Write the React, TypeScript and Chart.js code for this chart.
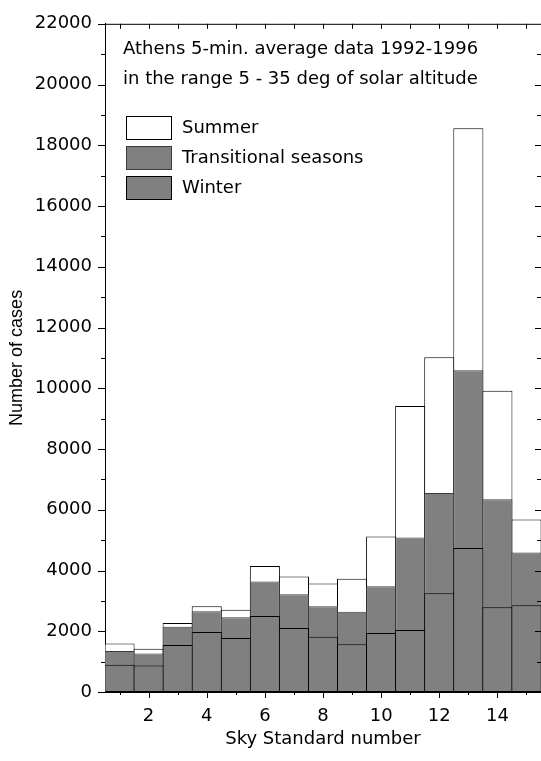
import React, { useEffect, useRef } from 'react';
import { Chart, registerables } from 'chart.js';

Chart.register(...registerables);

// ---- data ----
const skyStandards = [1, 2, 3, 4, 5, 6, 7, 8, 9, 10, 11, 12, 13, 14, 15];
const summer = [1600, 1420, 2270, 2820, 2710, 4150, 3800, 3570, 3730, 5120, 9420, 11020, 18560, 9920, 5680];
const transitional = [1350, 1265, 2150, 2660, 2460, 3640, 3220, 2820, 2640, 3480, 5090, 6550, 10590, 6350, 4590];
const winter = [895, 870, 1550, 1975, 1780, 2500, 2105, 1820, 1570, 1940, 2040, 3250, 4740, 2790, 2855];
const seriesLabels = ['Summer', 'Transitional seasons', 'Winter'];
const xTickValues = [2, 4, 6, 8, 10, 12, 14];
const yTickValues = [0, 2000, 4000, 6000, 8000, 10000, 12000, 14000, 16000, 18000, 20000, 22000];
const annotationLines = [
  'Athens 5-min. average data 1992-1996',
  'in the range 5 - 35 deg of solar altitude',
];
const xTitle = 'Sky Standard number';
const yTitle = 'Number of cases';

const H_FONT = '"DejaVu Sans", "Liberation Sans", Arial, sans-serif';
const V_FONT = '"Liberation Sans", Arial, sans-serif';

const framePlugin = {
  id: 'frameAndTicks',
  afterDraw(chart: any) {
    const { ctx, chartArea, scales } = chart;
    const { left, right, top, bottom } = chartArea;
    const x = scales.x;
    const y = scales.y;
    ctx.save();
    ctx.strokeStyle = '#000';
    ctx.lineWidth = 1;
    ctx.beginPath();
    // top border
    ctx.moveTo(left, top + 0.5);
    ctx.lineTo(right, top + 0.5);
    // x ticks
    for (const v of skyStandards) {
      const px = Math.round(x.getPixelForValue(v)) + 0.5;
      const len = v % 2 === 0 ? 6 : 3;
      ctx.moveTo(px, bottom);
      ctx.lineTo(px, bottom + len);
      ctx.moveTo(px, top);
      ctx.lineTo(px, top + 5);
    }
    // y ticks
    for (let v = 0; v <= 22000; v += 1000) {
      const py = Math.round(y.getPixelForValue(v)) + 0.5;
      const major = v % 2000 === 0;
      const lenL = major ? 7 : 4;
      ctx.moveTo(left - lenL, py);
      ctx.lineTo(left, py);
      if (v > 0 && v < 22000) {
        const lenR = major ? 6 : 4;
        ctx.moveTo(right - lenR, py);
        ctx.lineTo(right, py);
      }
    }
    ctx.stroke();

    // annotation text
    ctx.fillStyle = '#000';
    ctx.font = '18px ' + H_FONT;
    ctx.textBaseline = 'middle';
    ctx.textAlign = 'left';
    ctx.fillText(annotationLines[0], 123, 49);
    ctx.fillText(annotationLines[1], 123, 79);

    // legend
    const boxTops = [116, 146, 176];
    chart.data.datasets.forEach((ds: any, i: number) => {
      const bx = 126.5;
      const by = boxTops[i] + 0.5;
      ctx.fillStyle = ds.backgroundColor;
      ctx.fillRect(bx, by, 45, 23);
      ctx.strokeStyle = ds.borderColor;
      ctx.strokeRect(bx, by, 45, 23);
      ctx.fillStyle = '#000';
      ctx.fillText(ds.label, 182, boxTops[i] + 12);
    });
    ctx.restore();
  },
};

export default function App() {
  const ref = useRef<HTMLCanvasElement | null>(null);

  useEffect(() => {
    document.body.style.margin = '0';
    const canvas = ref.current;
    if (!canvas) return;
    const toPts = (arr: number[]) => skyStandards.map((s, i) => ({ x: s, y: arr[i] }));
    const common = {
      borderWidth: 1,
      borderSkipped: false,
      barPercentage: 1.035,
      categoryPercentage: 1,
      grouped: false,
    };
    const chart = new Chart(canvas, {
      type: 'bar',
      data: {
        datasets: [
          { ...common, label: seriesLabels[0], data: toPts(summer), backgroundColor: '#ffffff', borderColor: '#000000', order: 3 },
          { ...common, label: seriesLabels[1], data: toPts(transitional), backgroundColor: '#808080', borderColor: '#3a3a3a', order: 2 },
          { ...common, label: seriesLabels[2], data: toPts(winter), backgroundColor: '#808080', borderColor: '#000000', order: 1 },
        ] as any,
      },
      options: {
        animation: false,
        responsive: false,
        devicePixelRatio: 1,
        layout: { padding: { top: 19, right: 0, left: 0, bottom: 0 } },
        plugins: { legend: { display: false }, tooltip: { enabled: false } },
        scales: {
          x: {
            type: 'linear',
            min: 0.5,
            max: 15.5,
            offset: false,
            grid: { display: false, drawTicks: false },
            border: { display: true, color: '#000', width: 1 },
            afterBuildTicks: (s: any) => {
              s.ticks = xTickValues.map((v) => ({ value: v }));
            },
            afterFit: (s: any) => {
              s.height = 69;
            },
            ticks: {
              autoSkip: false,
              maxRotation: 0,
              padding: 14,
              color: '#000',
              font: { family: H_FONT, size: 18 },
              callback: (v: any) => String(v),
            },
            title: {
              display: true,
              text: xTitle,
              color: '#000',
              font: { family: H_FONT, size: 18 },
              padding: { top: 0, bottom: 11 },
            },
          },
          y: {
            type: 'linear',
            min: 0,
            max: 22000,
            grid: { display: false, drawTicks: false },
            border: { display: true, color: '#000', width: 1 },
            afterBuildTicks: (s: any) => {
              s.ticks = yTickValues.map((v) => ({ value: v }));
            },
            afterFit: (s: any) => {
              s.width = 105;
            },
            ticks: {
              autoSkip: false,
              padding: 13,
              color: '#000',
              font: { family: H_FONT, size: 18 },
              callback: (v: any) => String(v),
            },
            title: {
              display: true,
              text: yTitle,
              color: '#000',
              font: { family: V_FONT, size: 18 },
              padding: { top: 6, bottom: 0 },
            },
          },
        },
      } as any,
      plugins: [framePlugin],
    });
    return () => chart.destroy();
  }, []);

  return (
    <div style={{ width: 541, height: 761, background: '#fff' }}>
      <canvas ref={ref} width={541} height={761} style={{ display: 'block' }} />
    </div>
  );
}
